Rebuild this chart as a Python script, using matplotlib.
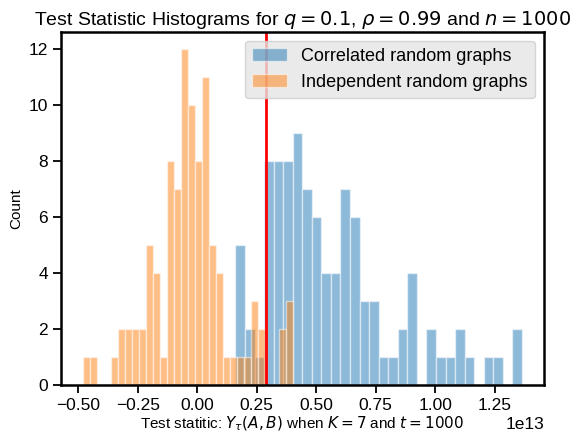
import numpy as np
import matplotlib
matplotlib.use("Agg")
import matplotlib.pyplot as plt

# ---- data (values in units of 1e13) ----
corr_counts = [5, 2, 1, 8, 8, 8, 9, 7, 6, 4, 4, 7, 6, 3, 3, 1, 1, 2, 4, 0,
               2, 1, 1, 2, 1, 0, 1, 1, 0, 2]
corr_range = [0.160, 1.365]
indep_counts = [1, 1, 0, 0, 1, 2, 2, 2, 2, 5, 4, 1, 8, 7, 12, 10, 8, 11, 5, 4,
                1, 1, 1, 1, 3, 2, 0, 0, 2, 3]
indep_range = [-0.481, 0.402]
threshold = 0.29
scale = 1e13
labels = ["Correlated random graphs", "Independent random graphs"]

plt.rcParams['font.family'] = ['Liberation Sans', 'DejaVu Sans']

fig = plt.figure(figsize=(5.72, 4.34), dpi=100)
ax = fig.add_axes([0.1066, 0.1129, 0.8444, 0.8141])

def draw(counts, rng, color, label):
    edges = np.linspace(rng[0], rng[1], len(counts) + 1) * scale
    ax.hist(edges[:-1], bins=edges, weights=counts, color=color, alpha=0.5,
            edgecolor='white', linewidth=1.0, label=label)

draw(corr_counts, corr_range, '#1f77b4', labels[0])
draw(indep_counts, indep_range, '#ff7f0e', labels[1])
ax.axvline(threshold * scale, color='red', linewidth=2)

ax.set_title(r"Test Statistic Histograms for $q = 0.1$, $\rho = 0.99$ and $n = 1000$",
             fontsize=14, pad=5)
ax.set_xlabel(r"Test statitic: $Y_\tau(A, B)$ when $K = 7$ and $t = 1000$", fontsize=11,
              labelpad=1)
ax.set_ylabel("Count", fontsize=11)
ax.set_ylim(0, 12.6)
ax.set_yticks(range(0, 13, 2))
ax.set_xticks(np.arange(-0.5, 1.26, 0.25) * scale)
ax.tick_params(labelsize=12.5, length=6, width=1.3, direction='out')
ax.xaxis.get_offset_text().set_fontsize(12.5)
for s in ax.spines.values():
    s.set_linewidth(1.8)

leg = ax.legend(loc='upper right', fontsize=13, frameon=True, fancybox=True,
                facecolor='#e5e5e5', edgecolor='#cccccc', framealpha=0.8,
                borderaxespad=0.5, handlelength=1.9)

fig.savefig("out.png", dpi=100)
